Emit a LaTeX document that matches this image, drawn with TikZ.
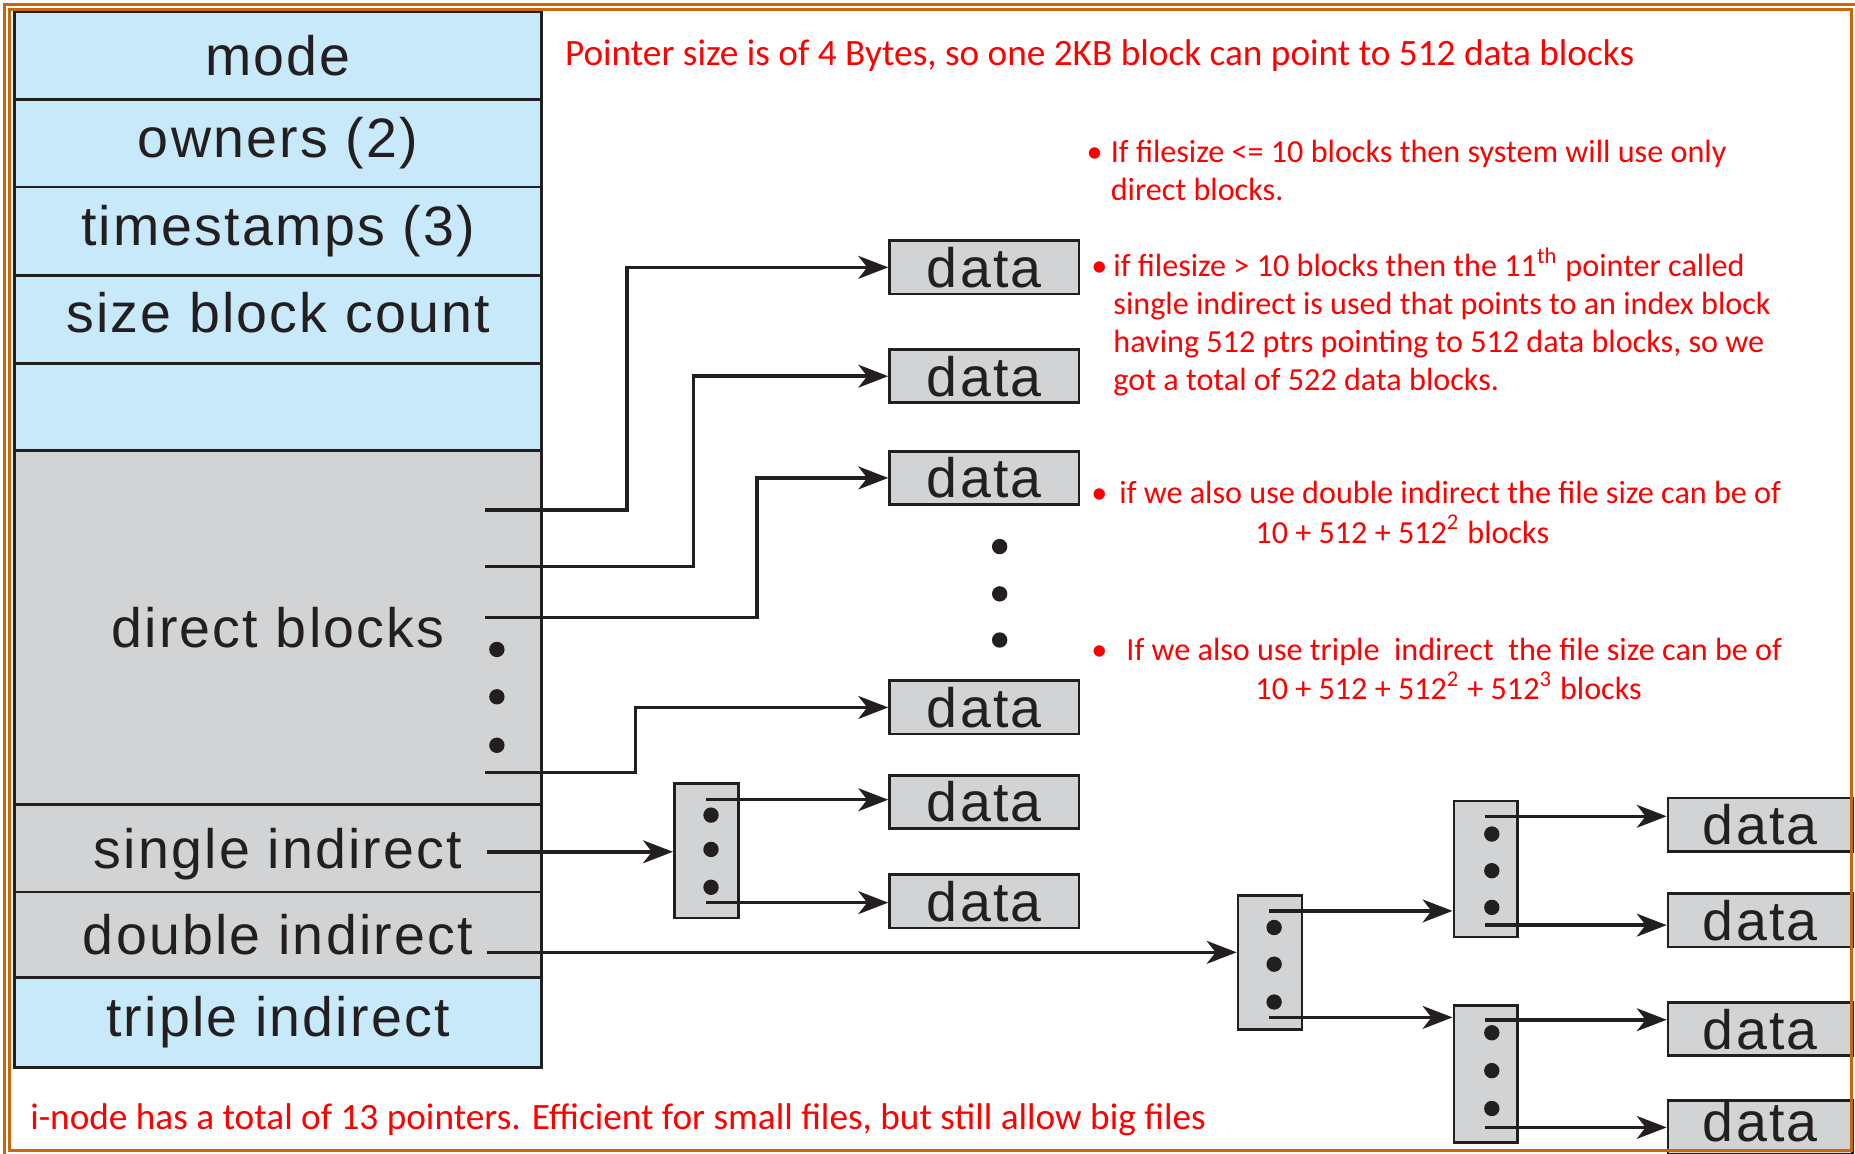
\documentclass[tikz,border=0pt]{standalone}
\usepackage{fontspec}
\usepackage{tikz}
\usetikzlibrary{arrows.meta}
\newfontfamily\labelfont[LetterSpace=4]{Liberation Sans}
\newfontfamily\notefont{Carlito}
\definecolor{inodeblue}{RGB}{199,233,250}
\definecolor{inodegray}{RGB}{209,211,212}
\definecolor{inkline}{RGB}{35,31,32}
\definecolor{noteRed}{RGB}{255,0,0}
\definecolor{frameorange}{RGB}{204,102,10}
\newlength\pxu
\setlength\pxu{0.1183mm}

\begin{document}
\begin{tikzpicture}[
  x=\pxu, y=-\pxu,
  >={Stealth[length=8.5pt,width=6.5pt,inset=2.5pt]},
  row/.style={draw=inkline,line width=0.8pt,minimum width=446*\pxu,inner sep=0pt,
              font=\labelfont\fontsize{15.8}{19}\selectfont,text=inkline},
  bluerow/.style={row,fill=inodeblue},
  grayrow/.style={row,fill=inodegray},
  datab/.style={draw=inkline,fill=inodegray,line width=0.8pt,minimum width=160*\pxu,
                minimum height=45*\pxu,inner sep=0pt,
                font=\labelfont\fontsize{15.8}{19}\selectfont,text=inkline},
  idxb/.style={draw=inkline,fill=inodegray,line width=0.8pt,minimum width=54*\pxu,
               minimum height=114*\pxu,inner sep=0pt},
  dot/.style={circle,fill=inkline,inner sep=0pt,minimum size=13*\pxu},
  ptr/.style={->,draw=inkline,line width=1pt},
  frame/.style={draw=frameorange,line width=0.75pt},
  note/.style={text=noteRed,anchor=base west,inner sep=0pt,
               font=\notefont\fontsize{10.6}{10.8}\selectfont},
  bullets/.style={note,font=\notefont\fontsize{9.15}{10.8}\selectfont}
]
\useasboundingbox (0,0) rectangle (1568,975);
\node[bluerow,minimum height=74*\pxu] (mode)    at (235,47)    {mode};
\node[bluerow,minimum height=74*\pxu] (owners)  at (235,121)   {owners (2)};
\node[bluerow,minimum height=75*\pxu] (stamps)  at (235,195.5) {timestamps (3)};
\node[bluerow,minimum height=74*\pxu,text depth=12*\pxu] (sizecnt) at (235,270) {size block count};
\node[bluerow,minimum height=74*\pxu] (spare)   at (235,344)   {};
\node[grayrow,minimum height=299*\pxu] (direct) at (235,530.5) {direct blocks};
\node[grayrow,minimum height=74*\pxu,text depth=0pt] (single) at (235,717) {single indirect};
\node[grayrow,minimum height=72*\pxu] (double)  at (235,790)   {double indirect};
\node[bluerow,minimum height=76*\pxu] (triple)  at (235,864)   {triple indirect};
\node[datab] (d1) at (832,226) {data};
\node[datab] (d2) at (832,318) {data};
\node[datab] (d3) at (832,404) {data};
\node[datab] (d4) at (832,598) {data};
\node[datab] (d5) at (832,678) {data};
\node[datab] (d6) at (832,762) {data};
\node[datab,minimum width=156*\pxu] (d7)  at (1488,697) {data};
\node[datab,minimum width=156*\pxu] (d8)  at (1488,778) {data};
\node[datab,minimum width=156*\pxu] (d9)  at (1488,870) {data};
\node[datab,minimum width=156*\pxu,minimum height=46*\pxu,text depth=10*\pxu] (d10) at (1488,953) {data};
\foreach \y in {549,589,630} \node[dot] (dd\y) at (420,\y) {};
\foreach \y in {462,502,541} \node[dot] (md\y) at (845,\y) {};
\coordinate (p1) at (410,431);
\coordinate (p2) at (410,479);
\coordinate (p3) at (410,522);
\coordinate (p4) at (410,653);
\draw[ptr] (p1) -- ++(120,0) |- (d1.west);
\draw[ptr] (p2) -- ++(176,0) |- (d2.west);
\draw[ptr] (p3) -- ++(230,0) |- (d3.west);
\draw[ptr] (p4) -- ++(127,0) |- (d4.west);
\node[idxb] (sidx) at (597,719) {};
\foreach \y in {689,718,750} \node[dot] (sd\y) at (601,\y) {};
\coordinate (sp) at (412,720);
\coordinate (s1) at (597,676);
\coordinate (s2) at (597,763);
\draw[ptr] (sp) -- (sp -| sidx.west);
\draw[ptr] (s1) -- (s1 -| d5.west);
\draw[ptr] (s2) -- (s2 -| d6.west);
\node[idxb,minimum height=113*\pxu] (didx) at (1073.5,813.5) {};
\node[idxb,minimum height=115*\pxu] (uidx) at (1256,734.5) {};
\node[idxb,minimum height=116*\pxu] (lidx) at (1256,908) {};
\foreach \y in {784,815,847} \node[dot] (td\y) at (1077,\y) {};
\foreach \y in {705,736,767} \node[dot] (ud\y) at (1261,\y) {};
\foreach \y in {873,905,937} \node[dot] (ld\y) at (1261,\y) {};
\coordinate (dp) at (412,805);
\coordinate (t1) at (1073,770);
\coordinate (t2) at (1073,860);
\coordinate (u1) at (1255,690);
\coordinate (u2) at (1255,782);
\coordinate (u3) at (1255,862);
\coordinate (u4) at (1255,953);
\draw[ptr] (dp) -- (dp -| didx.west);
\draw[ptr] (t1) -- (t1 -| uidx.west);
\draw[ptr] (t2) -- (t2 -| lidx.west);
\draw[ptr] (u1) -- (u1 -| d7.west);
\draw[ptr] (u2) -- (u2 -| d8.west);
\draw[ptr] (u3) -- (u3 -| d9.west);
\draw[ptr] (u4) -- (u4 -| d10.west);
\node[note] (ptrnote) at (477,55) {Pointer size is of 4 Bytes, so one 2KB block can point to 512 data blocks};
\node[bullets] (noteA) at (918,137) {\begin{tabular}[t]{@{}l@{\hskip 2.3pt}l@{}}
  \textbullet & If filesize <= 10 blocks then system will use only\\
  & direct blocks.\end{tabular}};
\node[bullets] (noteB) at (922,234) {\begin{tabular}[t]{@{}l@{\hskip 1.7pt}l@{}}
  \textbullet & if filesize > 10 blocks then the 11\textsuperscript{th} pointer called\\
  & single indirect is used that points to an index block\\
  & having 512 ptrs pointing to 512 data blocks, so we\\
  & got a total of 522 data blocks.\end{tabular}};
\node[bullets] (noteC) at (922,426) {\begin{tabular}[t]{@{}l@{\hskip 3.4pt}l@{}}
  \textbullet & if we also use double indirect the file size can be of\\
  & \hspace*{38.7pt}10 + 512 + 512\textsuperscript{2} blocks\end{tabular}};
\node[bullets] (noteD) at (922,558) {\begin{tabular}[t]{@{}l@{\hskip 5.4pt}l@{}}
  \textbullet & If we also use triple\ \ indirect\ \ the file size can be of\\
  & \hspace*{36.7pt}10 + 512 + 512\textsuperscript{2} + 512\textsuperscript{3} blocks\end{tabular}};
\node[note] (summary) at (25,955) {i-node has a total of 13 pointers. Efficient for small files, but still allow big files};
\draw[frame] (3.8,3.8) rectangle (1600,1000);
\draw[frame] (8,8) rectangle (1565,972.5);
\end{tikzpicture}
\end{document}
